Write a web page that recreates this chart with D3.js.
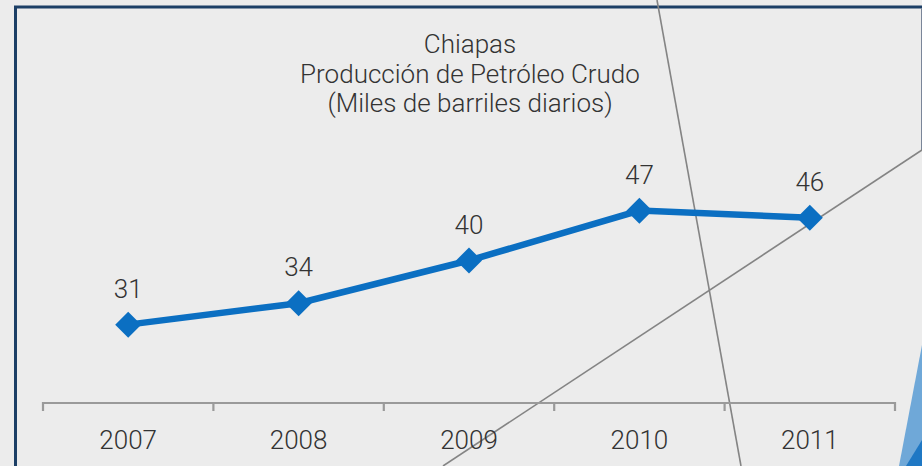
<!DOCTYPE html>
<html>
<head>
<meta charset="utf-8">
<script src="https://cdn.jsdelivr.net/npm/d3@7"></script>
<style>
  html, body { margin: 0; padding: 0; background: #ececec; }
  svg { display: block; }
  text { font-family: Roboto, "Liberation Sans", sans-serif; font-weight: 300; fill: #333333; }
</style>
</head>
<body>
<script>
// chart data
var years = ['2007', '2008', '2009', '2010', '2011'];
var production = [31, 34, 40, 47, 46];
var titleLines = ['Chiapas', 'Producción de Petróleo Crudo', '(Miles de barriles diarios)'];

var width = 922, height = 466;
var svg = d3.select('body').append('svg')
  .attr('width', width)
  .attr('height', height);

svg.append('rect').attr('width', width).attr('height', height).attr('fill', '#ececec');

// decorative frame and diagonals
svg.append('line').attr('x1', 14).attr('y1', 7).attr('x2', width).attr('y2', 7)
  .attr('stroke', '#1c3f66').attr('stroke-width', 3);
svg.append('line').attr('x1', 15.5).attr('y1', 6).attr('x2', 15.5).attr('y2', height)
  .attr('stroke', '#1c3f66').attr('stroke-width', 3);
svg.append('line').attr('x1', 921.5).attr('y1', 8).attr('x2', 921.5).attr('y2', 150)
  .attr('stroke', '#7a8699').attr('stroke-width', 1);
svg.append('line').attr('x1', 657).attr('y1', 0).attr('x2', 741).attr('y2', height)
  .attr('stroke', '#848484').attr('stroke-width', 1.6);
svg.append('line').attr('x1', width).attr('y1', 150).attr('x2', 443).attr('y2', height)
  .attr('stroke', '#848484').attr('stroke-width', 1.6);
svg.append('polygon').attr('points', '922,345 922,466 899,466').attr('fill', '#6fa8d8');
svg.append('polygon').attr('points', '922,440 922,466 906,466').attr('fill', '#1f78c4');

// scales
var x = d3.scaleBand().domain(years).range([43, 895]);
var y = d3.scaleLinear().domain([20, 70]).range([403, 46.75]);

// axis
var axis = svg.append('g').attr('transform', 'translate(0,403)')
  .call(d3.axisBottom(x).tickSize(0).tickPadding(27.5));
axis.select('.domain').remove();
axis.selectAll('text').style('font-size', '26px').attr('fill', '#333333')
  .attr('font-family', 'Roboto, sans-serif');
svg.append('line').attr('x1', 43).attr('x2', 895).attr('y1', 403).attr('y2', 403)
  .attr('stroke', '#9a9a9a').attr('stroke-width', 2.2);
svg.selectAll('.tick-mark')
  .data(years.concat(['end']))
  .enter().append('line')
  .attr('class', 'tick-mark')
  .attr('x1', function(d, i) { return i < years.length ? x(d) : x.range()[1]; })
  .attr('x2', function(d, i) { return i < years.length ? x(d) : x.range()[1]; })
  .attr('y1', 402).attr('y2', 411)
  .attr('stroke', '#9a9a9a').attr('stroke-width', 2.2);

var cx = function(d, i) { return x(years[i]) + x.bandwidth() / 2; };

// series line
svg.append('path')
  .datum(production)
  .attr('fill', 'none')
  .attr('stroke', '#0b6fc2')
  .attr('stroke-width', 6.5)
  .attr('d', d3.line().x(cx).y(function(d) { return y(d); }));

svg.selectAll('.marker')
  .data(production)
  .enter().append('path')
  .attr('class', 'marker')
  .attr('transform', function(d, i) { return 'translate(' + cx(d, i) + ',' + y(d) + ')'; })
  .attr('d', 'M0,-13L13,0L0,13L-13,0Z')
  .attr('fill', '#0b6fc2');

svg.selectAll('.value-label')
  .data(production)
  .enter().append('text')
  .attr('class', 'value-label')
  .attr('x', cx)
  .attr('y', function(d) { return y(d) - 27; })
  .attr('text-anchor', 'middle')
  .style('font-size', '26px')
  .text(function(d) { return d; });

// title
svg.selectAll('.title')
  .data(titleLines)
  .enter().append('text')
  .attr('class', 'title')
  .attr('x', 470)
  .attr('y', function(d, i) { return 53 + i * 29.5; })
  .attr('text-anchor', 'middle')
  .style('font-size', '26px')
  .text(function(d) { return d; });
</script>
</body>
</html>
